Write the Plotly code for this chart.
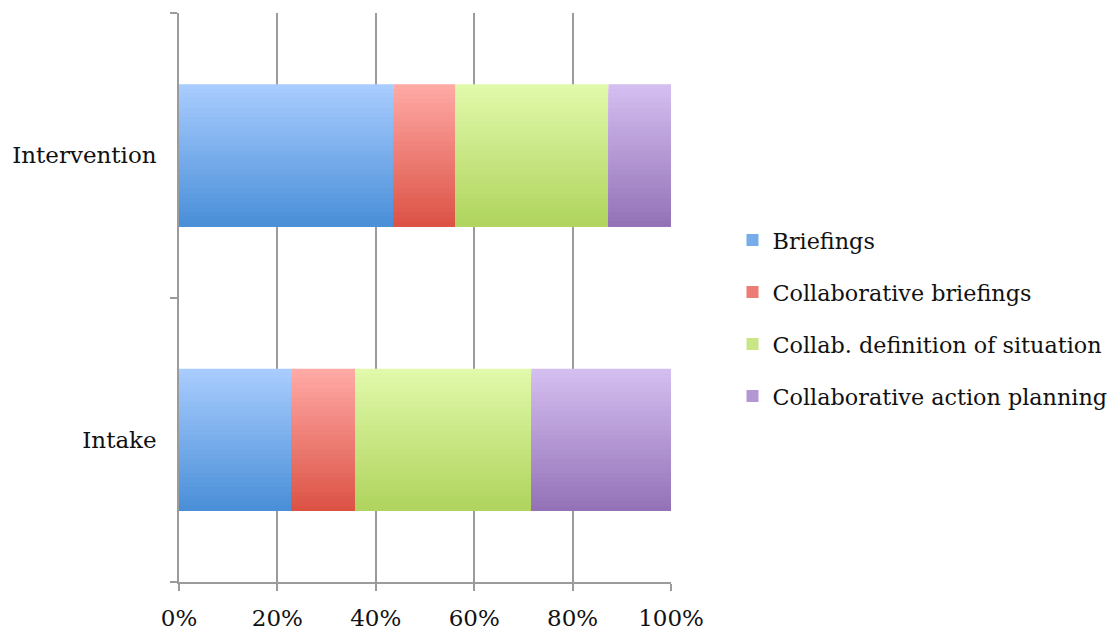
import plotly.graph_objects as go

# Data: share of each meeting phase (percent of total), per condition
categories = ["Intake", "Intervention"]
series_names = [
    "Briefings",
    "Collaborative briefings",
    "Collab. definition of situation",
    "Collaborative action planning",
]
briefings = [22.8, 43.6]
collab_briefings = [13.0, 12.6]
collab_definition = [35.8, 31.1]
collab_planning = [28.4, 12.7]
x_tick_values = [0, 20, 40, 60, 80, 100]
x_tick_labels = ["0%", "20%", "40%", "60%", "80%", "100%"]

series_values = [briefings, collab_briefings, collab_definition, collab_planning]

# Light (top) and dark (bottom) shade of each series, used for a vertical gradient
shades = [
    ("#a8ccfe", "#4a8fd8"),
    ("#ffa9a5", "#dc5346"),
    ("#e1f9aa", "#b0d45e"),
    ("#d4bef0", "#9472b7"),
]

FONT = "DejaVu Serif"
BAR_WIDTH = 0.5
N_SLICES = 30


def hex_to_rgb(h):
    h = h.lstrip("#")
    return tuple(int(h[i:i + 2], 16) for i in (0, 2, 4))


def mix(c1, c2, t):
    a, b = hex_to_rgb(c1), hex_to_rgb(c2)
    return "rgb({},{},{})".format(*[round(a[k] + (b[k] - a[k]) * t) for k in range(3)])


fig = go.Figure()

# Normalise each row to 100% and compute the running base of each segment
totals = [sum(v[i] for v in series_values) for i in range(len(categories))]
pct = [[v[i] / totals[i] * 100 for i in range(len(categories))] for v in series_values]
bases = []
running = [0.0] * len(categories)
for row in pct:
    bases.append(list(running))
    running = [running[i] + row[i] for i in range(len(categories))]

# Each segment is painted as a stack of shrinking layers, all anchored at the
# bottom edge of the bar: the full-height light layer first, darker and shorter
# layers on top of it, which gives a smooth light-to-dark vertical gradient.
slice_w = BAR_WIDTH / N_SLICES
for s, name in enumerate(series_names):
    top, bottom = shades[s]
    for k in range(N_SLICES):
        t = k / (N_SLICES - 1)
        fig.add_trace(go.Bar(
            y=categories,
            x=pct[s],
            base=bases[s],
            orientation="h",
            width=BAR_WIDTH - k * slice_w,
            offset=-BAR_WIDTH / 2,
            marker=dict(color=mix(top, bottom, t), line=dict(width=0)),
            name=name,
            legendgroup=name,
            showlegend=(k == N_SLICES // 2),
            hoverinfo="skip" if k != N_SLICES // 2 else None,
        ))

fig.update_layout(
    width=1112,
    height=631,
    margin=dict(l=179, r=441, t=13, b=49, autoexpand=False),
    paper_bgcolor="white",
    plot_bgcolor="white",
    barmode="overlay",
    font=dict(family=FONT, size=23, color="#111111"),
    legend=dict(
        x=1.125,
        y=0.464,
        xanchor="left",
        yanchor="middle",
        traceorder="grouped",
        tracegroupgap=20,
        itemwidth=30,
        font=dict(family=FONT, size=22.3, color="#111111"),
        bgcolor="rgba(0,0,0,0)",
    ),
    xaxis=dict(
        range=[0, 100],
        tickvals=x_tick_values,
        ticktext=x_tick_labels,
        showgrid=True,
        gridcolor="#9b9b9b",
        gridwidth=1.5,
        zeroline=False,
        showline=True,
        linecolor="#9b9b9b",
        linewidth=1.5,
        ticks="outside",
        ticklen=7,
        tickcolor="#9b9b9b",
        tickwidth=1.5,
        ticklabelstandoff=8,
        tickfont=dict(family=FONT, size=23),
    ),
    yaxis=dict(
        type="category",
        categoryorder="array",
        categoryarray=categories,
        range=[-0.5, 1.5],
        showgrid=False,
        zeroline=False,
        showline=True,
        linecolor="#9b9b9b",
        linewidth=1.5,
        ticks="outside",
        tickson="boundaries",
        ticklen=7,
        tickcolor="#9b9b9b",
        tickwidth=1.5,
        ticklabelstandoff=16,
        tickfont=dict(family=FONT, size=23),
    ),
)

fig.write_html("out.html")
